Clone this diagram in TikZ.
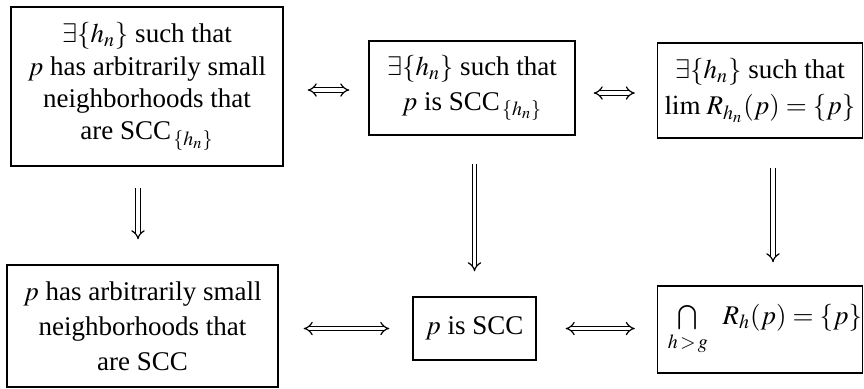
\documentclass[tikz,border=0pt]{standalone}
\usepackage{mathptmx}
\usepackage{fontspec}
\setmainfont{Liberation Serif}
\usetikzlibrary{arrows.meta}
\tikzset{
  box/.style={draw, line width=0.7pt, align=center, inner sep=0pt,
    font=\fontsize{13.5}{16.2}\selectfont},
  dimp/.style={line width=0.6pt, double, double distance=1.7pt, -{Implies}},
  dimpb/.style={line width=0.6pt, double, double distance=1.7pt, {Implies}-{Implies}}
}
\begin{document}
\begin{tikzpicture}[x=0.5pt,y=-0.5pt]
\useasboundingbox (0,0) rectangle (864,388);
\node[box, minimum width=136pt, minimum height=79.5pt] (A) at (147,86.5)
  {$\exists\{h_n\}$ such that\\ $p$ has arbitrarily small\\ neighborhoods that\\ are SCC$_{\,\{h_n\}}$};
\node[box, minimum width=103pt, minimum height=47pt,
  font=\fontsize{13.5}{17.5}\selectfont] (B) at (472,88)
  {$\exists\{h_n\}$ such that\\ $p$ is SCC$_{\,\{h_n\}}$};
\node[box, minimum width=102.5pt, minimum height=47.5pt,
  font=\fontsize{13.5}{18}\selectfont] (C) at (760,90.5)
  {$\exists\{h_n\}$ such that\\ $\lim\, R_{h_n}(p)=\{p\}$};
\node[box, minimum width=135.5pt, minimum height=61pt,
  font=\fontsize{13.5}{17.5}\selectfont] (D) at (142.5,326)
  {$p$ has arbitrarily small\\ neighborhoods that\\ are SCC};
\node[box, minimum width=61.5pt, minimum height=31.5pt] (E) at (474.5,328.5)
  {$p$ is SCC};
\node[box, minimum width=102.5pt, minimum height=43.5pt] (F) at (760,329.5)
  {\hspace*{5pt}$\mathop{\textstyle\bigcap}\limits_{h\,>\,g}\;\; R_h(p)=\{p\}$};
% helper points for the offset arrows
\coordinate (ab) at (A.east |- 0,90);
\coordinate (ba) at (B.west |- 0,90);
\coordinate (bc) at (B.east |- 0,93);
\coordinate (cb) at (C.west |- 0,93);
\coordinate (ad) at (138,0 |- A.south);
\coordinate (da) at (138,0 |- D.north);
\coordinate (cf) at (773,0 |- C.south);
\coordinate (fc) at (773,0 |- F.north);
% horizontal equivalences
\draw[dimpb, shorten <=12pt, shorten >=9.5pt] (ab) -- (ba);
\draw[dimpb, shorten <=9pt, shorten >=11pt] (bc) -- (cb);
\draw[dimpb, shorten <=12.5pt, shorten >=11.5pt] (D.east |- E.west) -- (E.west);
\draw[dimpb, shorten <=14.5pt, shorten >=11pt] (E.east) -- (E.east -| F.west);
% vertical implications
\draw[dimp, shorten <=10.5pt, shorten >=12.5pt] (ad) -- (da);
\draw[dimp, shorten <=14pt, shorten >=12.5pt] (E.north |- B.south) -- (E.north);
\draw[dimp, shorten <=14.5pt, shorten >=11.5pt] (cf) -- (fc);
\end{tikzpicture}
\end{document}
